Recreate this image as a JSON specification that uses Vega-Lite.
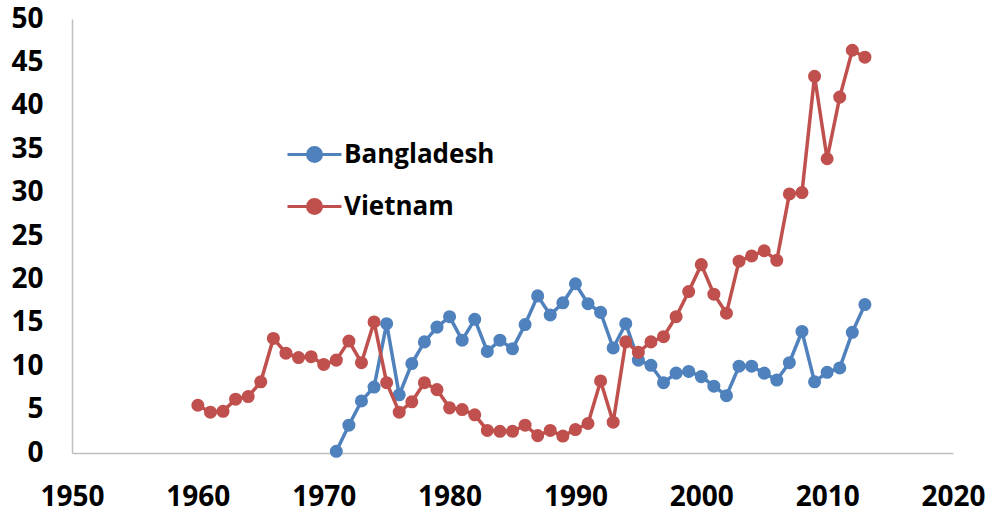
{
  "$schema": "https://vega.github.io/schema/vega-lite/v6.json",
  "width": 881,
  "height": 434,
  "autosize": {"type": "none"},
  "padding": {"left": 72, "top": 19, "right": 36, "bottom": 61},
  "background": "white",
  "config": {"view": {"stroke": null}, "font": "Open Sans"},
  "data": {"values": [
    {"country": "Bangladesh", "year": 1971, "value": 0.2},
    {"country": "Bangladesh", "year": 1972, "value": 3.2},
    {"country": "Bangladesh", "year": 1973, "value": 6.0},
    {"country": "Bangladesh", "year": 1974, "value": 7.6},
    {"country": "Bangladesh", "year": 1975, "value": 14.9},
    {"country": "Bangladesh", "year": 1976, "value": 6.7},
    {"country": "Bangladesh", "year": 1977, "value": 10.3},
    {"country": "Bangladesh", "year": 1978, "value": 12.8},
    {"country": "Bangladesh", "year": 1979, "value": 14.5},
    {"country": "Bangladesh", "year": 1980, "value": 15.7},
    {"country": "Bangladesh", "year": 1981, "value": 13.0},
    {"country": "Bangladesh", "year": 1982, "value": 15.4},
    {"country": "Bangladesh", "year": 1983, "value": 11.7},
    {"country": "Bangladesh", "year": 1984, "value": 13.0},
    {"country": "Bangladesh", "year": 1985, "value": 12.0},
    {"country": "Bangladesh", "year": 1986, "value": 14.8},
    {"country": "Bangladesh", "year": 1987, "value": 18.1},
    {"country": "Bangladesh", "year": 1988, "value": 15.9},
    {"country": "Bangladesh", "year": 1989, "value": 17.3},
    {"country": "Bangladesh", "year": 1990, "value": 19.5},
    {"country": "Bangladesh", "year": 1991, "value": 17.2},
    {"country": "Bangladesh", "year": 1992, "value": 16.2},
    {"country": "Bangladesh", "year": 1993, "value": 12.1},
    {"country": "Bangladesh", "year": 1994, "value": 14.9},
    {"country": "Bangladesh", "year": 1995, "value": 10.7},
    {"country": "Bangladesh", "year": 1996, "value": 10.1},
    {"country": "Bangladesh", "year": 1997, "value": 8.1},
    {"country": "Bangladesh", "year": 1998, "value": 9.2},
    {"country": "Bangladesh", "year": 1999, "value": 9.4},
    {"country": "Bangladesh", "year": 2000, "value": 8.8},
    {"country": "Bangladesh", "year": 2001, "value": 7.7},
    {"country": "Bangladesh", "year": 2002, "value": 6.6},
    {"country": "Bangladesh", "year": 2003, "value": 10.0},
    {"country": "Bangladesh", "year": 2004, "value": 10.0},
    {"country": "Bangladesh", "year": 2005, "value": 9.2},
    {"country": "Bangladesh", "year": 2006, "value": 8.4},
    {"country": "Bangladesh", "year": 2007, "value": 10.4},
    {"country": "Bangladesh", "year": 2008, "value": 14.0},
    {"country": "Bangladesh", "year": 2009, "value": 8.2},
    {"country": "Bangladesh", "year": 2010, "value": 9.3},
    {"country": "Bangladesh", "year": 2011, "value": 9.8},
    {"country": "Bangladesh", "year": 2012, "value": 13.9},
    {"country": "Bangladesh", "year": 2013, "value": 17.1},
    {"country": "Vietnam", "year": 1960, "value": 5.5},
    {"country": "Vietnam", "year": 1961, "value": 4.7},
    {"country": "Vietnam", "year": 1962, "value": 4.8},
    {"country": "Vietnam", "year": 1963, "value": 6.2},
    {"country": "Vietnam", "year": 1964, "value": 6.5},
    {"country": "Vietnam", "year": 1965, "value": 8.2},
    {"country": "Vietnam", "year": 1966, "value": 13.2},
    {"country": "Vietnam", "year": 1967, "value": 11.5},
    {"country": "Vietnam", "year": 1968, "value": 11.0},
    {"country": "Vietnam", "year": 1969, "value": 11.1},
    {"country": "Vietnam", "year": 1970, "value": 10.2},
    {"country": "Vietnam", "year": 1971, "value": 10.7},
    {"country": "Vietnam", "year": 1972, "value": 12.9},
    {"country": "Vietnam", "year": 1973, "value": 10.4},
    {"country": "Vietnam", "year": 1974, "value": 15.1},
    {"country": "Vietnam", "year": 1975, "value": 8.1},
    {"country": "Vietnam", "year": 1976, "value": 4.7},
    {"country": "Vietnam", "year": 1977, "value": 5.9},
    {"country": "Vietnam", "year": 1978, "value": 8.1},
    {"country": "Vietnam", "year": 1979, "value": 7.3},
    {"country": "Vietnam", "year": 1980, "value": 5.2},
    {"country": "Vietnam", "year": 1981, "value": 5.0},
    {"country": "Vietnam", "year": 1982, "value": 4.4},
    {"country": "Vietnam", "year": 1983, "value": 2.6},
    {"country": "Vietnam", "year": 1984, "value": 2.5},
    {"country": "Vietnam", "year": 1985, "value": 2.5},
    {"country": "Vietnam", "year": 1986, "value": 3.2},
    {"country": "Vietnam", "year": 1987, "value": 2.0},
    {"country": "Vietnam", "year": 1988, "value": 2.6},
    {"country": "Vietnam", "year": 1989, "value": 1.95},
    {"country": "Vietnam", "year": 1990, "value": 2.7},
    {"country": "Vietnam", "year": 1991, "value": 3.4},
    {"country": "Vietnam", "year": 1992, "value": 8.3},
    {"country": "Vietnam", "year": 1993, "value": 3.55},
    {"country": "Vietnam", "year": 1994, "value": 12.8},
    {"country": "Vietnam", "year": 1995, "value": 11.6},
    {"country": "Vietnam", "year": 1996, "value": 12.8},
    {"country": "Vietnam", "year": 1997, "value": 13.4},
    {"country": "Vietnam", "year": 1998, "value": 15.7},
    {"country": "Vietnam", "year": 1999, "value": 18.6},
    {"country": "Vietnam", "year": 2000, "value": 21.7},
    {"country": "Vietnam", "year": 2001, "value": 18.3},
    {"country": "Vietnam", "year": 2002, "value": 16.1},
    {"country": "Vietnam", "year": 2003, "value": 22.1},
    {"country": "Vietnam", "year": 2004, "value": 22.7},
    {"country": "Vietnam", "year": 2005, "value": 23.3},
    {"country": "Vietnam", "year": 2006, "value": 22.2},
    {"country": "Vietnam", "year": 2007, "value": 29.85},
    {"country": "Vietnam", "year": 2008, "value": 30.0},
    {"country": "Vietnam", "year": 2009, "value": 43.4},
    {"country": "Vietnam", "year": 2010, "value": 33.9},
    {"country": "Vietnam", "year": 2011, "value": 41.0},
    {"country": "Vietnam", "year": 2012, "value": 46.4},
    {"country": "Vietnam", "year": 2013, "value": 45.6}
  ]},
  "encoding": {
    "x": {
      "field": "year", "type": "quantitative",
      "scale": {"domain": [1950, 2020], "nice": false, "zero": false},
      "axis": {
        "title": null, "values": [1950, 1960, 1970, 1980, 1990, 2000, 2010, 2020],
        "format": "d", "grid": false, "ticks": false,
        "domainColor": "#bfbfbf", "domainWidth": 1.5,
        "labelFontSize": 28, "labelFontWeight": "bold", "labelColor": "black",
        "labelPadding": 30, "labelFlush": false, "labelOverlap": false
      }
    },
    "y": {
      "field": "value", "type": "quantitative",
      "scale": {"domain": [0, 50], "nice": false},
      "axis": {
        "title": null, "values": [0, 5, 10, 15, 20, 25, 30, 35, 40, 45, 50],
        "grid": false, "ticks": false,
        "domainColor": "#bfbfbf", "domainWidth": 1.5,
        "labelFontSize": 28, "labelFontWeight": "bold", "labelColor": "black",
        "labelPadding": 29, "labelFlush": false, "labelOverlap": false
      }
    },
    "color": {
      "field": "country", "type": "nominal",
      "scale": {"domain": ["Bangladesh", "Vietnam"], "range": ["#4f81bd", "#c0504d"]},
      "legend": {
        "title": null, "orient": "none", "legendX": 214, "legendY": 107,
        "padding": 0,
        "symbolType": "M-1,0L1,0M-0.26,0A0.26,0.26,0,1,1,0.26,0A0.26,0.26,0,1,1,-0.26,0Z",
        "symbolSize": 2916, "symbolStrokeWidth": 3, "symbolOpacity": 1,
        "labelFontSize": 26, "labelFontWeight": "bold", "labelColor": "black",
        "labelOffset": 1, "rowPadding": 10,
        "encode": {"symbols": {"update": {
          "fill": {"scale": "color", "field": "value"},
          "stroke": {"scale": "color", "field": "value"},
          "opacity": {"value": 1}
        }}}
      }
    }
  },
  "layer": [
    {"transform": [{"filter": "datum.country === 'Bangladesh'"}], "mark": {"type": "line", "strokeWidth": 3.5}},
    {"transform": [{"filter": "datum.country === 'Bangladesh'"}], "mark": {"type": "point", "filled": true, "size": 170, "opacity": 1}},
    {"transform": [{"filter": "datum.country === 'Vietnam'"}], "mark": {"type": "line", "strokeWidth": 3.5}},
    {"transform": [{"filter": "datum.country === 'Vietnam'"}], "mark": {"type": "point", "filled": true, "size": 170, "opacity": 1}}
  ]
}
